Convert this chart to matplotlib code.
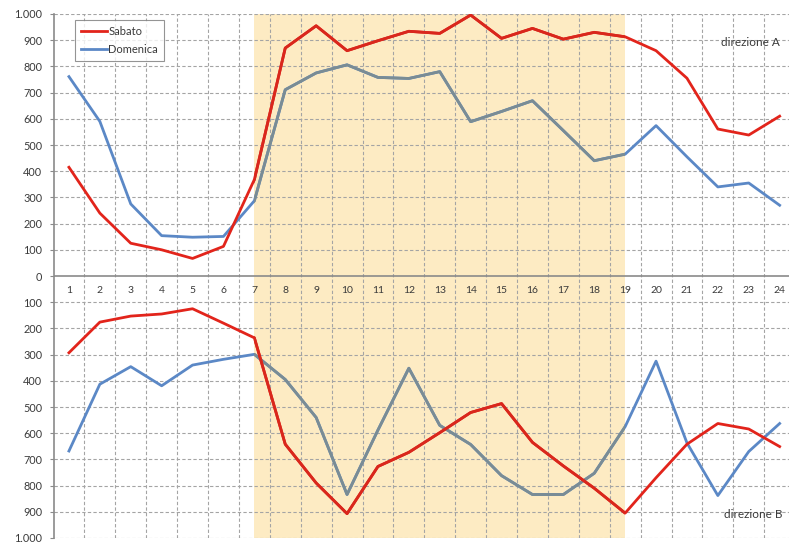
import matplotlib
matplotlib.use('Agg')
import matplotlib.pyplot as plt
from matplotlib.ticker import FixedLocator, FuncFormatter
from matplotlib.patches import Rectangle

# ---------------- data ----------------
hours = list(range(1, 25))
sabato_A = [415, 240, 125, 100, 67, 113, 368, 870, 955, 860, 898, 934,
            926, 996, 907, 945, 904, 930, 913, 860, 755, 561, 538, 610]
domenica_A = [761, 590, 275, 154, 148, 151, 287, 711, 775, 806, 758, 754,
              780, 589, 628, 669, 555, 440, 465, 574, 455, 340, 355, 270]
sabato_B = [293, 176, 153, 145, 125, 180, 236, 642, 790, 907, 727, 673,
            598, 521, 487, 635, 725, 810, 905, 770, 642, 563, 584, 651]
domenica_B = [668, 413, 346, 419, 340, 318, 299, 395, 540, 834, 588, 352,
              570, 643, 762, 834, 834, 753, 575, 325, 637, 838, 670, 563]
y_ticks = list(range(-1000, 1001, 100))
shade_start, shade_end = 7, 19
series_names = ["Sabato", "Domenica"]
label_A = "direzione A"
label_B = "direzione B"

# ---------------- style ----------------
RED = '#E2241B'
BLUE = '#5B88C6'
BLUE_SHADED = '#7A8C94'
RED_SHADED = '#D9271C'
SHADE = '#FDEBC3'
GRID = '#A4A4A4'
TXT = '#3A3A3A'

plt.rcParams['font.family'] = ['Lato', 'DejaVu Sans']

W, H = 789, 545
fig = plt.figure(figsize=(W / 100, H / 100), dpi=100)
left_px, unit_px = 53.5, 30.9
top_px, bot_px = 14, 538
ax = fig.add_axes([left_px / W, 1 - bot_px / H, 24 * unit_px / W, (bot_px - top_px) / H])
ax.set_xlim(0.5, 24.5)
ax.set_ylim(-1000, 1000)

# shaded band
band = ax.axvspan(shade_start, shade_end, color=SHADE, lw=0, zorder=0)
clip_rect = Rectangle((shade_start, -1000), shade_end - shade_start, 2000,
                      transform=ax.transData, visible=False)
ax.add_patch(clip_rect)

# grid
for xb in [h + 0.5 for h in hours[:-1]]:
    ax.axvline(xb, color=GRID, lw=0.8, ls=(0, (3, 2)), zorder=1)
for yt in y_ticks:
    if yt != 0:
        ax.axhline(yt, color=GRID, lw=0.8, ls=(0, (3, 2)), zorder=1)
ax.axhline(0, color='#8A8A8A', lw=1.2, zorder=2)

# lines
neg_B_sab = [-v for v in sabato_B]
neg_B_dom = [-v for v in domenica_B]
ax.plot(hours, sabato_A, color=RED, lw=2.0, zorder=4, label=series_names[0])
ax.plot(hours, domenica_A, color=BLUE, lw=2.0, zorder=3, label=series_names[1])
ax.plot(hours, neg_B_sab, color=RED, lw=2.0, zorder=4)
ax.plot(hours, neg_B_dom, color=BLUE, lw=2.0, zorder=3)
for ys, c, z in [(sabato_A, RED_SHADED, 4.1), (domenica_A, BLUE_SHADED, 3.1),
                 (neg_B_sab, RED_SHADED, 4.1), (neg_B_dom, BLUE_SHADED, 3.1)]:
    ln, = ax.plot(hours, ys, color=c, lw=2.0, zorder=z)
    ln.set_clip_path(clip_rect)

# x labels in the middle
for h in hours:
    ax.text(h, -57, str(h), ha='center', va='center', fontsize=7.5, color=TXT)

# y axis
ax.yaxis.set_major_locator(FixedLocator(y_ticks))
def fmt(v, pos):
    v = int(round(abs(v)))
    return f"{v:,}".replace(',', '.')
ax.yaxis.set_major_formatter(FuncFormatter(fmt))
ax.tick_params(axis='y', labelsize=7.8, labelcolor=TXT, length=3, color='#8A8A8A', pad=5)
ax.set_xticks([])
for s in ['top', 'right', 'bottom']:
    ax.spines[s].set_visible(False)
ax.spines['left'].set_color('#8A8A8A')
ax.spines['left'].set_linewidth(1.2)

# legend
leg = fig.legend(loc='upper left', bbox_to_anchor=(75 / W, 1 - 20 / H),
                 fontsize=8, frameon=True, fancybox=False, handlelength=2.4,
                 borderpad=0.5, labelspacing=0.7, handletextpad=0.1, borderaxespad=0)
leg.get_frame().set_edgecolor('#7A7A7A')
leg.get_frame().set_linewidth(0.8)
for t in leg.get_texts():
    t.set_color(TXT)

fig.text(750 / W, 1 - 42 / H, label_A, fontsize=8.5, color=TXT, ha='center', va='center')
fig.text(753 / W, 1 - 515 / H, label_B, fontsize=8.5, color=TXT, ha='center', va='center')

fig.savefig('out.png', dpi=100)
